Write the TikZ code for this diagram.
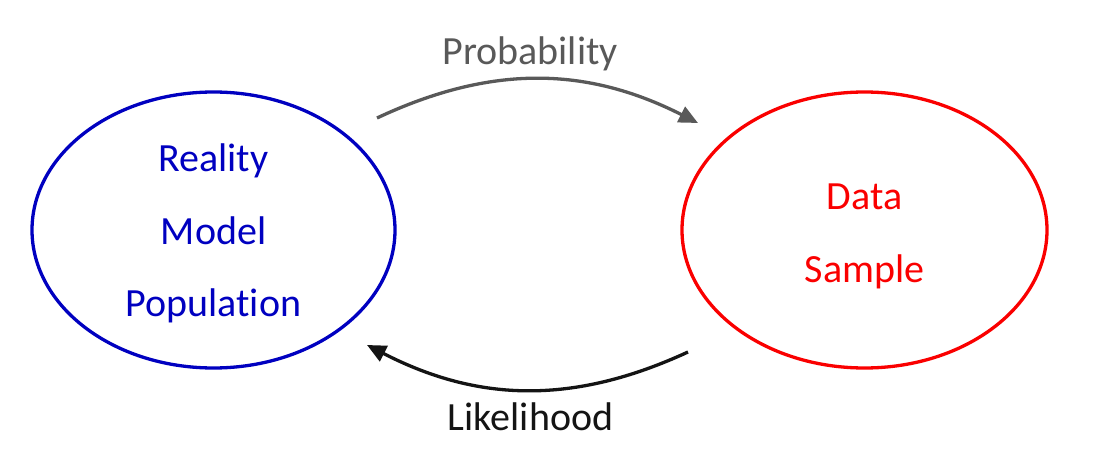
\documentclass[tikz,border=0pt]{standalone}
\usepackage{fontspec}
\setmainfont{Carlito}[Ligatures=NoCommon]
\usepackage{xcolor}
\usetikzlibrary{arrows.meta,shapes,positioning}

\definecolor{realblue}{RGB}{0,0,192}
\definecolor{datared}{RGB}{250,0,0}
\definecolor{probgray}{RGB}{89,89,89}
\definecolor{likeblack}{RGB}{20,20,20}

\begin{document}
\begin{tikzpicture}[x=1pt,y=1pt,auto]
	\tikzstyle{world}=[ellipse,draw,line width=3.3pt,inner sep=0pt,align=center,font=\fontsize{40}{72.5}\selectfont]
	\tikzstyle{flow}=[draw,line width=3.3pt,-{Triangle[length=19pt,width=17pt]}]
	\tikzstyle{flowlabel}=[font=\fontsize{40}{48}\selectfont,inner sep=0pt]
	\useasboundingbox (0,0) rectangle (1114,456);
	
	\node[world,draw=realblue,text=realblue,minimum width=363pt,minimum height=276pt](reality) at (213.5,226){\rule{0pt}{35pt}Reality\\Model\\Population};
	\node[world,draw=datared,text=datared,minimum width=365pt,minimum height=276pt](data) at (864.5,226){\rule{0pt}{38pt}Data\\Sample};
	
	\coordinate (probstart) at (377,338);
	\coordinate (probend) at (698,333);
	\coordinate (likestart) at (688,104);
	\coordinate (likeend) at (367,111);
	
	\path (probstart) edge[flow,draw=probgray,bend left=26] node[flowlabel,text=probgray,above=7pt,xshift=-8pt]{Probability} (probend);
	\path (likestart) edge[flow,draw=likeblack,bend left=26] node[flowlabel,text=likeblack,below=11pt,xshift=4pt]{Likelihood} (likeend);
\end{tikzpicture}
\end{document}
